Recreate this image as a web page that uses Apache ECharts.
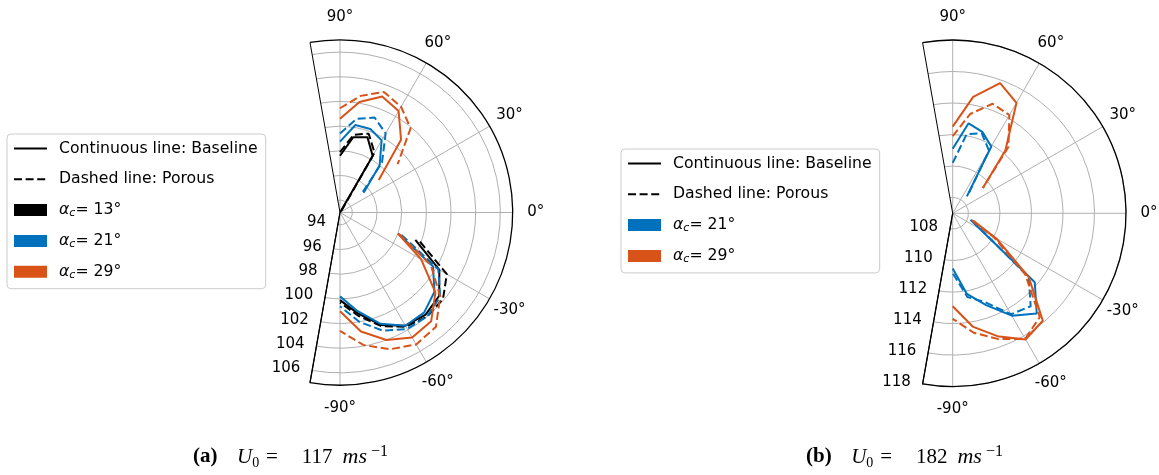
<!DOCTYPE html>
<html><head><meta charset="utf-8">
<script src="https://cdn.jsdelivr.net/npm/echarts@6/dist/echarts.min.js"></script>
<style>html,body{margin:0;padding:0;background:#fff}#c{width:1159px;height:475px}</style>
</head><body><div id="c"></div>
<script>
// ---- angle samples (degrees) ----
const ANG_UP = [90, 80, 70, 60, 50, 40];
const ANG_LOW = [-20, -30, -40, -50, -60, -70, -80, -90];

// ---- axis ranges / ticks ----
const THETA_RANGE = [-100, 100];
const THETA_LABELS = [-90, -60, -30, 0, 30, 60, 90];
const R_RANGE_A = [93, 107];
const R_RANGE_B = [107, 118];

// ---- (a) U0 = 117 m/s ----
const A13_BASE_UP  = [97.6, 99.2, 99.5, 98.3, 93.0, null];
const A13_BASE_LOW = [99.5, 102.3, 103.5, 103.8, 103.6, 102.7, 101.3, 100.1];
const A13_POR_UP   = [97.9, 99.4, 99.8, 98.6, 93.2, null];
const A13_POR_LOW  = [99.9, 103.0, 103.9, 104.0, 103.7, 102.8, 101.5, 100.3];
const A21_BASE_UP  = [98.75, 100.2, 100.2, 99.75, 98.0, 95.5];
const A21_BASE_LOW = [98.0, 101.7, 103.0, 103.6, 103.6, 102.6, 101.1, 99.8];
const A21_POR_UP   = [99.4, 100.7, 101.2, 100.4, 98.3, 95.2];
const A21_POR_LOW  = [98.3, 102.2, 103.6, 104.0, 103.9, 103.2, 102.0, 100.6];
const A29_BASE_UP  = [100.6, 102.1, 103.0, 102.5, 100.7, 97.1];
const A29_BASE_LOW = [98.0, 100.6, 103.1, 104.5, 104.7, 104.0, 102.8, 101.0];
const A29_POR_UP   = [101.45, 102.6, 103.4, 102.9, 101.9, 99.1];
const A29_POR_LOW  = [98.1, 101.5, 103.6, 105.1, 105.35, 104.8, 103.9, 102.6];

// ---- (b) U0 = 182 m/s ----
const B21_BASE_UP  = [111.1, 112.8, 112.5, 111.9, 108.4, null];
const B21_BASE_LOW = [108.2, 109.0, 113.8, 115.3, 114.5, 113.2, 112.2, 110.5];
const B21_POR_UP   = [110.2, 112.1, 112.4, 111.6, 108.5, null];
const B21_POR_LOW  = [108.3, 109.1, 113.3, 114.7, 114.4, 113.0, 112.4, 110.8];
const B29_BASE_UP  = [112.5, 114.5, 115.8, 115.1, 112.2, 109.5];
const B29_BASE_LOW = [108.4, 110.2, 113.3, 115.9, 116.25, 115.3, 114.3, 112.9];
const B29_POR_UP   = [111.9, 113.4, 114.4, 114.2, 112.5, 109.5];
const B29_POR_LOW  = [108.3, 110.0, 113.0, 115.6, 116.2, 115.5, 114.7, 113.7];

const NAME_BASE = 'Continuous line: Baseline';
const NAME_POR = 'Dashed line: Porous';
const NAME_13 = 'αc= 13°', NAME_21 = 'αc= 21°', NAME_29 = 'αc= 29°';

const C_BLACK = '#000000', C_BLUE = '#0072BD', C_ORANGE = '#D95319';
const DASH = [8, 3.6];
const FONT = 'DejaVu Sans';
const SERIF = 'Liberation Serif';

const POLARS = [
  { center: [340, 212.5], radius: 172.7, range: R_RANGE_A },
  { center: [952.7, 213.3], radius: 173.3, range: R_RANGE_B }
];
const LABEL_PAD_PX = 23; // theta labels are centred this far outside the frame

function polarData(up, low) {
  const d = [];
  up.forEach((v, i) => d.push(v == null ? ['-', '-'] : [v, ANG_UP[i]]));
  d.push(['-', '-']);
  low.forEach((v, i) => d.push(v == null ? ['-', '-'] : [v, ANG_LOW[i]]));
  return d;
}
function curve(name, pi, up, low, color, dashed) {
  return {
    type: 'line', coordinateSystem: 'polar', polarIndex: pi, name: name,
    data: polarData(up, low), symbol: 'none', color: color, silent: true,
    connectNulls: false, animation: false,
    lineStyle: { width: 2, color: color, type: dashed ? DASH : 'solid' }
  };
}
function dummy(name, dashed) {
  return { type: 'line', coordinateSystem: 'polar', polarIndex: 0, name: name, data: [],
    symbol: 'none', color: C_BLACK, lineStyle: { width: 2, color: C_BLACK, type: dashed ? DASH : 'solid' } };
}
// theta tick labels, centred on their angle (matplotlib style)
function thetaLabels(pi) {
  const p = POLARS[pi];
  const rLab = p.range[1] + LABEL_PAD_PX / p.radius * (p.range[1] - p.range[0]);
  return {
    type: 'scatter', coordinateSystem: 'polar', polarIndex: pi, name: 'theta-labels-' + pi,
    silent: true, clip: false, symbolSize: 0, animation: false,
    itemStyle: { opacity: 1 },
    data: THETA_LABELS.map(t => [rLab, t]),
    label: { show: true, position: 'inside', color: '#000000', opacity: 1, fontSize: 15, fontFamily: FONT,
      textBorderWidth: 0, formatter: prm => prm.value[1] + '°' }
  };
}

// angle-axis split line colours (edge = frame, multiples of 30 = grid)
const angTicks = [];
for (let v = THETA_RANGE[0]; v <= THETA_RANGE[1]; v += 10) angTicks.push(v);
const angColors = angTicks.map(v => (v === THETA_RANGE[0] || v === THETA_RANGE[1]) ? '#000000'
  : (THETA_LABELS.indexOf(v) >= 0 ? '#b0b0b0' : 'rgba(0,0,0,0)'));

function angleAxis(pi) {
  return {
    polarIndex: pi, type: 'value', min: THETA_RANGE[0], max: THETA_RANGE[1], interval: 10,
    startAngle: THETA_RANGE[0], endAngle: THETA_RANGE[1], clockwise: false,
    axisLine: { show: true, lineStyle: { color: '#000', width: 1.3 } },
    axisTick: { show: false },
    axisLabel: { show: false },
    splitLine: { show: true, lineStyle: { color: angColors, width: 1 } }
  };
}
function radiusAxis(pi) {
  const range = POLARS[pi].range;
  const cols = [];
  for (let v = range[0]; v <= range[1]; v++) cols.push(v % 2 === 0 ? '#b0b0b0' : 'rgba(0,0,0,0)');
  return {
    polarIndex: pi, type: 'value', min: range[0], max: range[1], interval: 1,
    axisLine: { show: true, lineStyle: { color: '#000', width: 1.3 } },
    axisTick: { show: false },
    axisLabel: { margin: -12, align: 'right', verticalAlign: 'middle', color: '#000', fontSize: 15,
      fontFamily: FONT, formatter: v => (v % 2 === 0 ? String(v) : '') },
    splitLine: { show: true, lineStyle: { color: cols, width: 1 } }
  };
}

const legendRich = {
  a: { fontStyle: 'italic', fontSize: 15.7, fontFamily: FONT, lineHeight: 18 },
  c: { fontStyle: 'italic', fontSize: 11, fontFamily: FONT, lineHeight: 12, verticalAlign: 'bottom' },
  t: { fontSize: 15.7, fontFamily: FONT, lineHeight: 18 }
};
function legendFmt(name) {
  if (name.charAt(0) === 'α') return '{a|α}{c|c}{t|' + name.slice(2) + '}';
  return name;
}
function legend(left, top, names) {
  return {
    orient: 'vertical', left: left, top: top, itemWidth: 33, itemHeight: 12, itemGap: 12.8,
    padding: [5.5, 8, 8, 6], backgroundColor: '#fff', borderColor: '#cccccc', borderWidth: 1, borderRadius: 4,
    selectedMode: false,
    textStyle: { fontFamily: FONT, fontSize: 15.7, color: '#000', lineHeight: 18, padding: [0, 0, 0, 7], rich: legendRich },
    formatter: legendFmt,
    data: names.map(n => (n === NAME_BASE || n === NAME_POR) ? { name: n, itemStyle: { opacity: 0 } } : { name: n, icon: 'rect' })
  };
}

const capBase = { fontFamily: SERIF, fontWeight: 'normal', color: '#000', fontSize: 21, lineHeight: 26 };
const capRich = {
  b: Object.assign({}, capBase, { fontWeight: 'bold', padding: [0, 19.5, 0, 0] }),
  i: Object.assign({}, capBase, { fontStyle: 'italic' }),
  s: Object.assign({}, capBase, { fontSize: 14, lineHeight: 12, verticalAlign: 'bottom' }),
  e: Object.assign({}, capBase, { padding: [0, 24, 0, 6.8] }),
  n: Object.assign({}, capBase, { padding: [0, 10, 0, 0] }),
  m: Object.assign({}, capBase, { fontStyle: 'italic', fontSize: 22, padding: [0, 4, 0, 0] }),
  p: Object.assign({}, capBase, { fontSize: 16, lineHeight: 14, verticalAlign: 'top' })
};
function caption(tag, speed, left) {
  return { left: left, top: 444, padding: 0,
    text: '{b|(' + tag + ')}{i|U}{s|0}{e|=}{n|' + speed + '}{m|ms}{p|−1}',
    textStyle: { fontWeight: 'normal', fontFamily: SERIF, rich: capRich } };
}

const option = {
  animation: false,
  backgroundColor: '#fff',
  title: [caption('a', 117, 193), caption('b', 182, 806)],
  polar: POLARS.map(p => ({ center: p.center, radius: p.radius })),
  angleAxis: [angleAxis(0), angleAxis(1)],
  radiusAxis: [radiusAxis(0), radiusAxis(1)],
  legend: [
    legend(7, 134, [NAME_BASE, NAME_POR, NAME_13, NAME_21, NAME_29]),
    legend(621, 149, [NAME_BASE, NAME_POR, NAME_21, NAME_29])
  ],
  series: [
    dummy(NAME_BASE, false), dummy(NAME_POR, true),
    curve(NAME_13, 0, A13_BASE_UP, A13_BASE_LOW, C_BLACK, false),
    curve(NAME_13, 0, A13_POR_UP, A13_POR_LOW, C_BLACK, true),
    curve(NAME_21, 0, A21_BASE_UP, A21_BASE_LOW, C_BLUE, false),
    curve(NAME_21, 0, A21_POR_UP, A21_POR_LOW, C_BLUE, true),
    curve(NAME_29, 0, A29_BASE_UP, A29_BASE_LOW, C_ORANGE, false),
    curve(NAME_29, 0, A29_POR_UP, A29_POR_LOW, C_ORANGE, true),
    curve(NAME_21, 1, B21_BASE_UP, B21_BASE_LOW, C_BLUE, false),
    curve(NAME_21, 1, B21_POR_UP, B21_POR_LOW, C_BLUE, true),
    curve(NAME_29, 1, B29_BASE_UP, B29_BASE_LOW, C_ORANGE, false),
    curve(NAME_29, 1, B29_POR_UP, B29_POR_LOW, C_ORANGE, true),
    thetaLabels(0), thetaLabels(1)
  ]
};
const chart = echarts.init(document.getElementById('c'), null, { renderer: 'canvas' });
chart.setOption(option);
</script></body></html>
